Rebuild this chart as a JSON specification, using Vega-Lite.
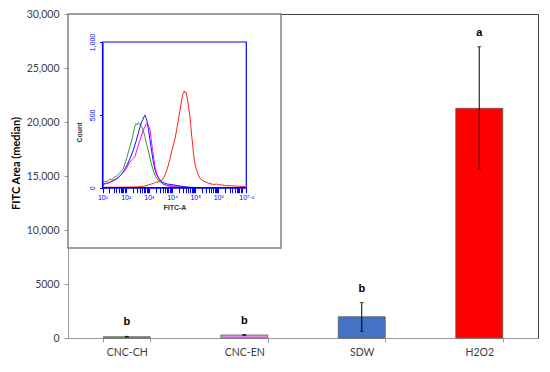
{
  "$schema": "https://vega.github.io/schema/vega-lite/v6.json",
  "width": 470,
  "height": 324,
  "autosize": {"type": "none"},
  "padding": {"left": 68, "top": 14, "right": 12, "bottom": 34},
  "background": "white",
  "config": {"view": {"stroke": "#404040", "strokeWidth": 1}, "font": "Lato"},
  "datasets": {
    "bars": [
      {"treatment": "CNC-CH", "median": 120, "lower": 90, "upper": 150, "group": "b"},
      {"treatment": "CNC-EN", "median": 280, "lower": 240, "upper": 320, "group": "b"},
      {"treatment": "SDW", "median": 1970, "lower": 620, "upper": 3280, "group": "b"},
      {"treatment": "H2O2", "median": 21270, "lower": 15620, "upper": 26970, "group": "a"}
    ],
    "panel": [{"log_fitc": -0.488, "log_fitc_end": 8.697, "count": -414, "count_end": 1192}],
    "frame": [{"log_fitc": 1, "log_fitc_end": 7.2, "count": 0, "count_end": 1000}],
    "hist": [
      {"sample": "CNC-CH", "log_fitc": 1.0, "count": 30},
      {"sample": "CNC-CH", "log_fitc": 1.1, "count": 45},
      {"sample": "CNC-CH", "log_fitc": 1.2, "count": 38},
      {"sample": "CNC-CH", "log_fitc": 1.3, "count": 60},
      {"sample": "CNC-CH", "log_fitc": 1.4, "count": 55},
      {"sample": "CNC-CH", "log_fitc": 1.5, "count": 72},
      {"sample": "CNC-CH", "log_fitc": 1.6, "count": 80},
      {"sample": "CNC-CH", "log_fitc": 1.7, "count": 95},
      {"sample": "CNC-CH", "log_fitc": 1.8, "count": 110},
      {"sample": "CNC-CH", "log_fitc": 1.9, "count": 133},
      {"sample": "CNC-CH", "log_fitc": 2.0, "count": 180},
      {"sample": "CNC-CH", "log_fitc": 2.1, "count": 236},
      {"sample": "CNC-CH", "log_fitc": 2.2, "count": 290},
      {"sample": "CNC-CH", "log_fitc": 2.3, "count": 350},
      {"sample": "CNC-CH", "log_fitc": 2.4, "count": 425},
      {"sample": "CNC-CH", "log_fitc": 2.45, "count": 440},
      {"sample": "CNC-CH", "log_fitc": 2.5, "count": 430},
      {"sample": "CNC-CH", "log_fitc": 2.55, "count": 446},
      {"sample": "CNC-CH", "log_fitc": 2.6, "count": 440},
      {"sample": "CNC-CH", "log_fitc": 2.69, "count": 418},
      {"sample": "CNC-CH", "log_fitc": 2.76, "count": 390},
      {"sample": "CNC-CH", "log_fitc": 2.83, "count": 350},
      {"sample": "CNC-CH", "log_fitc": 2.9, "count": 300},
      {"sample": "CNC-CH", "log_fitc": 2.97, "count": 259},
      {"sample": "CNC-CH", "log_fitc": 3.05, "count": 200},
      {"sample": "CNC-CH", "log_fitc": 3.12, "count": 156},
      {"sample": "CNC-CH", "log_fitc": 3.2, "count": 115},
      {"sample": "CNC-CH", "log_fitc": 3.26, "count": 87},
      {"sample": "CNC-CH", "log_fitc": 3.35, "count": 60},
      {"sample": "CNC-CH", "log_fitc": 3.48, "count": 41},
      {"sample": "CNC-CH", "log_fitc": 3.6, "count": 28},
      {"sample": "CNC-CH", "log_fitc": 3.7, "count": 20},
      {"sample": "CNC-CH", "log_fitc": 3.85, "count": 15},
      {"sample": "CNC-CH", "log_fitc": 4.0, "count": 12},
      {"sample": "CNC-CH", "log_fitc": 4.2, "count": 10},
      {"sample": "CNC-CH", "log_fitc": 4.4, "count": 7},
      {"sample": "CNC-CH", "log_fitc": 4.6, "count": 5},
      {"sample": "CNC-CH", "log_fitc": 4.8, "count": 3},
      {"sample": "CNC-CH", "log_fitc": 5.0, "count": 2},
      {"sample": "SDW", "log_fitc": 1.0, "count": 20},
      {"sample": "SDW", "log_fitc": 1.1, "count": 30},
      {"sample": "SDW", "log_fitc": 1.2, "count": 28},
      {"sample": "SDW", "log_fitc": 1.32, "count": 39},
      {"sample": "SDW", "log_fitc": 1.45, "count": 50},
      {"sample": "SDW", "log_fitc": 1.6, "count": 62},
      {"sample": "SDW", "log_fitc": 1.75, "count": 80},
      {"sample": "SDW", "log_fitc": 1.9, "count": 110},
      {"sample": "SDW", "log_fitc": 2.06, "count": 156},
      {"sample": "SDW", "log_fitc": 2.2, "count": 205},
      {"sample": "SDW", "log_fitc": 2.33, "count": 259},
      {"sample": "SDW", "log_fitc": 2.45, "count": 320},
      {"sample": "SDW", "log_fitc": 2.54, "count": 373},
      {"sample": "SDW", "log_fitc": 2.62, "count": 420},
      {"sample": "SDW", "log_fitc": 2.69, "count": 453},
      {"sample": "SDW", "log_fitc": 2.75, "count": 470},
      {"sample": "SDW", "log_fitc": 2.8, "count": 490},
      {"sample": "SDW", "log_fitc": 2.83, "count": 499},
      {"sample": "SDW", "log_fitc": 2.87, "count": 480},
      {"sample": "SDW", "log_fitc": 2.91, "count": 465},
      {"sample": "SDW", "log_fitc": 2.98, "count": 400},
      {"sample": "SDW", "log_fitc": 3.05, "count": 327},
      {"sample": "SDW", "log_fitc": 3.12, "count": 250},
      {"sample": "SDW", "log_fitc": 3.19, "count": 178},
      {"sample": "SDW", "log_fitc": 3.26, "count": 125},
      {"sample": "SDW", "log_fitc": 3.34, "count": 87},
      {"sample": "SDW", "log_fitc": 3.45, "count": 60},
      {"sample": "SDW", "log_fitc": 3.55, "count": 41},
      {"sample": "SDW", "log_fitc": 3.7, "count": 30},
      {"sample": "SDW", "log_fitc": 3.8, "count": 25},
      {"sample": "SDW", "log_fitc": 3.95, "count": 22},
      {"sample": "SDW", "log_fitc": 4.1, "count": 18},
      {"sample": "SDW", "log_fitc": 4.25, "count": 14},
      {"sample": "SDW", "log_fitc": 4.4, "count": 10},
      {"sample": "SDW", "log_fitc": 4.55, "count": 6},
      {"sample": "SDW", "log_fitc": 4.7, "count": 3},
      {"sample": "SDW", "log_fitc": 4.85, "count": 2},
      {"sample": "CNC-EN", "log_fitc": 1.0, "count": 15},
      {"sample": "CNC-EN", "log_fitc": 1.1, "count": 25},
      {"sample": "CNC-EN", "log_fitc": 1.2, "count": 30},
      {"sample": "CNC-EN", "log_fitc": 1.3, "count": 35},
      {"sample": "CNC-EN", "log_fitc": 1.45, "count": 45},
      {"sample": "CNC-EN", "log_fitc": 1.6, "count": 58},
      {"sample": "CNC-EN", "log_fitc": 1.7, "count": 70},
      {"sample": "CNC-EN", "log_fitc": 1.85, "count": 95},
      {"sample": "CNC-EN", "log_fitc": 2.0, "count": 125},
      {"sample": "CNC-EN", "log_fitc": 2.06, "count": 140},
      {"sample": "CNC-EN", "log_fitc": 2.15, "count": 170},
      {"sample": "CNC-EN", "log_fitc": 2.26, "count": 190},
      {"sample": "CNC-EN", "log_fitc": 2.33, "count": 200},
      {"sample": "CNC-EN", "log_fitc": 2.4, "count": 213},
      {"sample": "CNC-EN", "log_fitc": 2.5, "count": 270},
      {"sample": "CNC-EN", "log_fitc": 2.6, "count": 320},
      {"sample": "CNC-EN", "log_fitc": 2.69, "count": 362},
      {"sample": "CNC-EN", "log_fitc": 2.76, "count": 395},
      {"sample": "CNC-EN", "log_fitc": 2.83, "count": 418},
      {"sample": "CNC-EN", "log_fitc": 2.88, "count": 435},
      {"sample": "CNC-EN", "log_fitc": 2.91, "count": 442},
      {"sample": "CNC-EN", "log_fitc": 2.95, "count": 438},
      {"sample": "CNC-EN", "log_fitc": 3.0, "count": 420},
      {"sample": "CNC-EN", "log_fitc": 3.05, "count": 396},
      {"sample": "CNC-EN", "log_fitc": 3.1, "count": 330},
      {"sample": "CNC-EN", "log_fitc": 3.16, "count": 259},
      {"sample": "CNC-EN", "log_fitc": 3.21, "count": 200},
      {"sample": "CNC-EN", "log_fitc": 3.26, "count": 144},
      {"sample": "CNC-EN", "log_fitc": 3.33, "count": 100},
      {"sample": "CNC-EN", "log_fitc": 3.41, "count": 65},
      {"sample": "CNC-EN", "log_fitc": 3.5, "count": 40},
      {"sample": "CNC-EN", "log_fitc": 3.61, "count": 25},
      {"sample": "CNC-EN", "log_fitc": 3.75, "count": 15},
      {"sample": "CNC-EN", "log_fitc": 3.9, "count": 10},
      {"sample": "CNC-EN", "log_fitc": 4.1, "count": 6},
      {"sample": "CNC-EN", "log_fitc": 4.3, "count": 4},
      {"sample": "CNC-EN", "log_fitc": 4.5, "count": 2},
      {"sample": "H2O2", "log_fitc": 1.0, "count": 3},
      {"sample": "H2O2", "log_fitc": 1.5, "count": 3},
      {"sample": "H2O2", "log_fitc": 2.0, "count": 4},
      {"sample": "H2O2", "log_fitc": 2.3, "count": 5},
      {"sample": "H2O2", "log_fitc": 2.5, "count": 6},
      {"sample": "H2O2", "log_fitc": 2.7, "count": 9},
      {"sample": "H2O2", "log_fitc": 2.85, "count": 12},
      {"sample": "H2O2", "log_fitc": 3.0, "count": 20},
      {"sample": "H2O2", "log_fitc": 3.1, "count": 25},
      {"sample": "H2O2", "log_fitc": 3.2, "count": 30},
      {"sample": "H2O2", "log_fitc": 3.3, "count": 38},
      {"sample": "H2O2", "log_fitc": 3.4, "count": 40},
      {"sample": "H2O2", "log_fitc": 3.48, "count": 41},
      {"sample": "H2O2", "log_fitc": 3.55, "count": 50},
      {"sample": "H2O2", "log_fitc": 3.62, "count": 65},
      {"sample": "H2O2", "log_fitc": 3.7, "count": 87},
      {"sample": "H2O2", "log_fitc": 3.77, "count": 120},
      {"sample": "H2O2", "log_fitc": 3.84, "count": 156},
      {"sample": "H2O2", "log_fitc": 3.91, "count": 200},
      {"sample": "H2O2", "log_fitc": 3.98, "count": 247},
      {"sample": "H2O2", "log_fitc": 4.05, "count": 290},
      {"sample": "H2O2", "log_fitc": 4.13, "count": 339},
      {"sample": "H2O2", "log_fitc": 4.2, "count": 400},
      {"sample": "H2O2", "log_fitc": 4.27, "count": 465},
      {"sample": "H2O2", "log_fitc": 4.34, "count": 530},
      {"sample": "H2O2", "log_fitc": 4.4, "count": 590},
      {"sample": "H2O2", "log_fitc": 4.46, "count": 640},
      {"sample": "H2O2", "log_fitc": 4.5, "count": 655},
      {"sample": "H2O2", "log_fitc": 4.53, "count": 664},
      {"sample": "H2O2", "log_fitc": 4.56, "count": 650},
      {"sample": "H2O2", "log_fitc": 4.6, "count": 655},
      {"sample": "H2O2", "log_fitc": 4.63, "count": 636},
      {"sample": "H2O2", "log_fitc": 4.67, "count": 600},
      {"sample": "H2O2", "log_fitc": 4.72, "count": 545},
      {"sample": "H2O2", "log_fitc": 4.77, "count": 487},
      {"sample": "H2O2", "log_fitc": 4.81, "count": 420},
      {"sample": "H2O2", "log_fitc": 4.85, "count": 350},
      {"sample": "H2O2", "log_fitc": 4.89, "count": 290},
      {"sample": "H2O2", "log_fitc": 4.92, "count": 236},
      {"sample": "H2O2", "log_fitc": 4.97, "count": 180},
      {"sample": "H2O2", "log_fitc": 5.02, "count": 140},
      {"sample": "H2O2", "log_fitc": 5.06, "count": 121},
      {"sample": "H2O2", "log_fitc": 5.13, "count": 90},
      {"sample": "H2O2", "log_fitc": 5.2, "count": 65},
      {"sample": "H2O2", "log_fitc": 5.3, "count": 50},
      {"sample": "H2O2", "log_fitc": 5.42, "count": 41},
      {"sample": "H2O2", "log_fitc": 5.55, "count": 32},
      {"sample": "H2O2", "log_fitc": 5.71, "count": 25},
      {"sample": "H2O2", "log_fitc": 5.8, "count": 22},
      {"sample": "H2O2", "log_fitc": 5.92, "count": 25},
      {"sample": "H2O2", "log_fitc": 6.0, "count": 20},
      {"sample": "H2O2", "log_fitc": 6.14, "count": 19},
      {"sample": "H2O2", "log_fitc": 6.3, "count": 15},
      {"sample": "H2O2", "log_fitc": 6.5, "count": 13},
      {"sample": "H2O2", "log_fitc": 6.71, "count": 12},
      {"sample": "H2O2", "log_fitc": 6.9, "count": 10},
      {"sample": "H2O2", "log_fitc": 7.15, "count": 8}
    ]
  },
  "layer": [
    {
      "data": {"name": "bars"},
      "layer": [
        {
          "mark": {"type": "bar", "stroke": "#555555", "strokeWidth": 0.7},
          "encoding": {
            "x": {
              "field": "treatment", "type": "nominal", "sort": null,
              "scale": {"paddingInner": 0.6, "paddingOuter": 0.3},
              "axis": {"title": null, "labelAngle": 0, "tickBand": "extent", "labelFontSize": 10.5, "labelColor": "#404040", "labelPadding": 5, "tickColor": "#999999", "tickSize": 4, "domainColor": "#999999"}
            },
            "y": {
              "field": "median", "type": "quantitative", "title": "FITC Area (median)",
              "scale": {"domain": [0, 30000], "nice": false},
              "axis": {
                "values": [0, 5000, 10000, 15000, 20000, 25000, 30000],
                "labelExpr": "datum.value >= 10000 ? format(datum.value, ',') : format(datum.value, 'd')",
                "title": "FITC Area (median)", "titleFontWeight": "bold", "titleFontSize": 11, "titleColor": "black", "titleFont": "Lato", "titlePadding": 5, "titleY": 149,
                "labelFontSize": 10.5, "labelColor": "#404040", "labelPadding": 5, "tickColor": "#999999", "tickSize": 4, "domainColor": "#999999", "grid": false
              }
            },
            "color": {
              "field": "treatment", "type": "nominal",
              "scale": {"domain": ["CNC-CH", "CNC-EN", "SDW", "H2O2"], "range": ["#70AD47", "#EE82EE", "#4472C4", "#FF0000"]},
              "legend": null
            }
          }
        },
        {
          "mark": {"type": "errorbar", "ticks": {"size": 4, "color": "black"}, "rule": {"color": "black", "strokeWidth": 1}},
          "encoding": {
            "x": {"field": "treatment", "type": "nominal", "sort": null},
            "y": {"field": "lower", "type": "quantitative", "title": "FITC Area (median)"},
            "y2": {"field": "upper"}
          }
        },
        {
          "mark": {"type": "text", "font": "Liberation Sans", "fontWeight": "bold", "fontSize": 11, "dy": -14, "color": "black"},
          "encoding": {
            "x": {"field": "treatment", "type": "nominal", "sort": null},
            "y": {"field": "upper", "type": "quantitative", "title": "FITC Area (median)"},
            "text": {"field": "group"}
          }
        }
      ]
    },
    {
      "encoding": {
        "x": {
          "field": "log_fitc", "type": "quantitative",
          "scale": {"domain": [1, 7.2], "range": [34.5, 178.3], "nice": false, "zero": false},
          "axis": {
            "orient": "bottom", "offset": -150.3, "zindex": 1,
            "values": [1, 1.301, 1.477, 1.602, 1.699, 1.778, 1.845, 1.903, 1.954, 2, 2.301, 2.477, 2.602, 2.699, 2.778, 2.845, 2.903, 2.954, 3, 3.301, 3.477, 3.602, 3.699, 3.778, 3.845, 3.903, 3.954, 4, 4.301, 4.477, 4.602, 4.699, 4.778, 4.845, 4.903, 4.954, 5, 5.301, 5.477, 5.602, 5.699, 5.778, 5.845, 5.903, 5.954, 6, 6.301, 6.477, 6.602, 6.699, 6.778, 6.845, 6.903, 6.954, 7, 7.2],
            "labelExpr": "datum.value == 7.2 ? '10⁷·²' : ((datum.value == floor(datum.value) && datum.value < 7) ? '10' + ['⁰','¹','²','³','⁴','⁵','⁶'][datum.value] : '')",
            "labelFont": "Liberation Sans", "labelFontSize": 7, "labelColor": "#0000FF", "labelPadding": 1, "labelOverlap": false, "labelFlush": false,
            "tickColor": "#0000FF", "tickSize": 5, "tickWidth": 1, "domainColor": "#0000FF", "grid": false,
            "title": "FITC-A", "titleFont": "Liberation Sans", "titleFontSize": 7, "titleFontWeight": "bold", "titleColor": "#333333", "titlePadding": 3
          }
        },
        "y": {
          "field": "count", "type": "quantitative",
          "scale": {"domain": [0, 1000], "range": [173.7, 28], "nice": false, "zero": false},
          "axis": {
            "orient": "left", "offset": -34.5, "zindex": 1,
            "values": [0, 500, 1000],
            "labelExpr": "format(datum.value, ',')",
            "labelAngle": 270, "labelAlign": "center", "labelBaseline": "bottom",
            "labelFont": "Liberation Sans", "labelFontSize": 7, "labelColor": "#0000FF", "labelPadding": 4,
            "tickColor": "#0000FF", "tickSize": 3, "domainColor": "#0000FF", "grid": false,
            "title": "Count", "titleFont": "Liberation Sans", "titleFontSize": 7, "titleFontWeight": "bold", "titleColor": "#333333", "titlePadding": 6, "titleY": 118
          }
        }
      },
      "layer": [
        {
          "data": {"name": "panel"},
          "mark": {"type": "rect", "fill": "white", "stroke": "#808080", "strokeWidth": 1.5},
          "encoding": {
            "x2": {"field": "log_fitc_end"},
            "y2": {"field": "count_end"}
          }
        },
        {
          "data": {"name": "hist"},
          "mark": {"type": "line", "strokeWidth": 1, "interpolate": "linear"},
          "encoding": {
            "color": {
              "field": "sample", "type": "nominal",
              "scale": {"domain": ["CNC-CH", "SDW", "CNC-EN", "H2O2"], "range": ["#2E9E2E", "#1010FF", "#FF00FF", "#FF2020"]},
              "legend": null
            }
          }
        },
        {
          "data": {"name": "frame"},
          "mark": {"type": "rect", "fill": null, "fillOpacity": 0, "stroke": "#0000FF", "strokeWidth": 1.2},
          "encoding": {
            "x2": {"field": "log_fitc_end"},
            "y2": {"field": "count_end"}
          }
        }
      ]
    }
  ],
  "resolve": {
    "scale": {"x": "independent", "y": "independent", "color": "independent"},
    "axis": {"x": "independent", "y": "independent"}
  }
}
